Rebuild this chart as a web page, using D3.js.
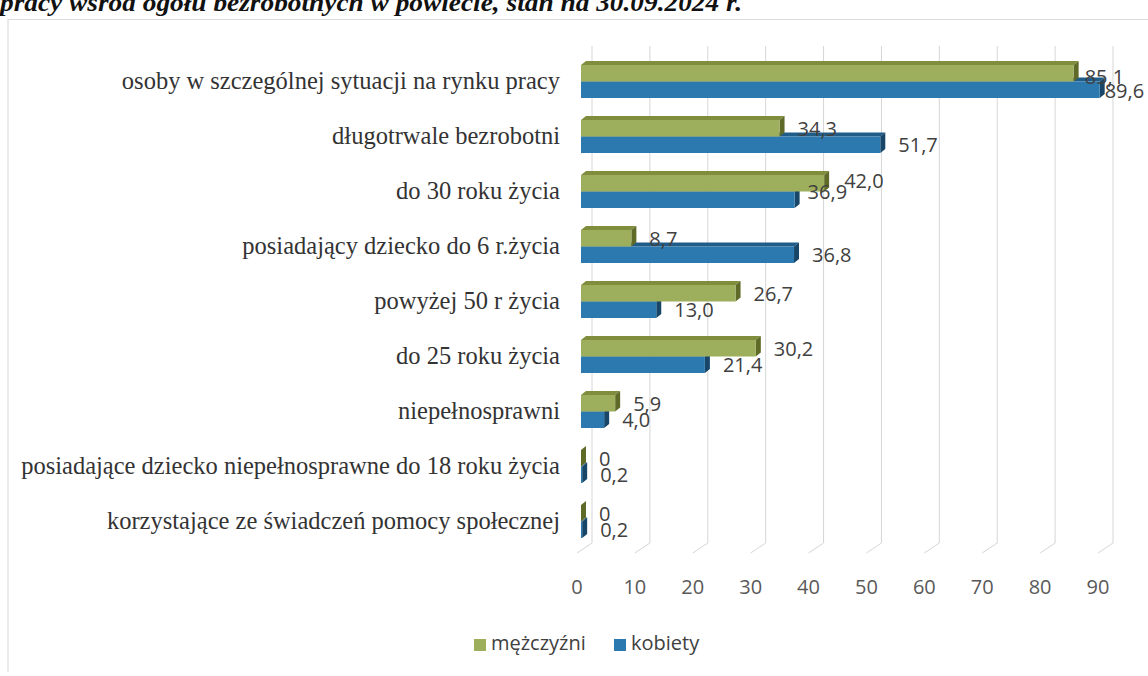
<!DOCTYPE html>
<html lang="pl">
<head>
<meta charset="UTF-8">
<title>Bezrobotni w szczególnej sytuacji na rynku pracy</title>
<script src="https://cdn.jsdelivr.net/npm/d3@7"></script>
<style>
  body { margin: 0; background: #fff; }
  .cat { font-family: "Liberation Serif", "Times New Roman", serif; font-size: 24.5px; fill: #333; }
  .num { font-family: "Open Sans", sans-serif; font-size: 20px; fill: #404040; }
  .tick { font-family: "Open Sans", sans-serif; font-size: 20px; fill: #595959; }
  .legend { font-family: "Open Sans", sans-serif; font-size: 20px; fill: #404040; }
  .title { font-family: "Liberation Serif", serif; font-weight: bold; font-style: italic; font-size: 26px; fill: #111; }
</style>
</head>
<body>
<div id="chart"></div>
<script>
// data
const categories = [
  "osoby w szczególnej sytuacji na rynku pracy",
  "długotrwale bezrobotni",
  "do 30 roku życia",
  "posiadający dziecko do 6 r.życia",
  "powyżej 50 r życia",
  "do 25 roku życia",
  "niepełnosprawni",
  "posiadające dziecko niepełnosprawne do 18 roku życia",
  "korzystające ze świadczeń pomocy społecznej"
];
const men   = [85.1, 34.3, 42.0, 8.7, 26.7, 30.2, 5.9, 0, 0];
const women = [89.6, 51.7, 36.9, 36.8, 13.0, 21.4, 4.0, 0.2, 0.2];
const seriesNames = ["mężczyźni", "kobiety"];
const tickValues = [0, 10, 20, 30, 40, 50, 60, 70, 80, 90];

const W = 1148, H = 676;
const svg = d3.select("#chart").append("svg").attr("width", W).attr("height", H);

// frame + clipped title line from the page
svg.append("path")
  .attr("d", `M8,${H - 4} L8,19.5 L${W},19.5`)
  .attr("fill", "none").attr("stroke", "#dcdcdc").attr("stroke-width", 1.2);
svg.append("text").attr("class", "title")
  .attr("x", 0).attr("y", 11)
  .attr("textLength", 742).attr("lengthAdjust", "spacingAndGlyphs")
  .text("pracy wśród ogółu bezrobotnych w powiecie, stan na 30.09.2024 r.");

const x = d3.scaleLinear().domain([0, 90]).range([581, 1102]);
const y = d3.scaleBand().domain(categories).range([53.5, 548.5]);
const inner = d3.scaleBand().domain(seriesNames).range([-16, 17]);

// 3d offsets: wall (back) and floor (front) relative to the bar plane
const back = {dx: 11, dy: -6}, front = {dx: -4, dy: 4};
const wallTop = 46, wallBottom = 543;

const grid = svg.append("g").attr("stroke", "#d6d6d6").attr("fill", "none").attr("stroke-width", 1);
tickValues.forEach(v => {
  const bx = x(v) + back.dx, fx = x(v) + front.dx;
  grid.append("path").attr("d", `M${bx},${wallTop} L${bx},${wallBottom} L${fx},${wallBottom + 10}`);
});

svg.append("g").selectAll("text").data(tickValues).join("text")
  .attr("class", "tick")
  .attr("x", d => x(d) + front.dx)
  .attr("y", 589)
  .attr("text-anchor", "middle")
  .attr("dominant-baseline", "middle")
  .text(d => d);

// category labels
svg.append("g").selectAll("text").data(categories).join("text")
  .attr("class", "cat")
  .attr("x", 560)
  .attr("y", d => y(d) + y.bandwidth() / 2 + 2)
  .attr("text-anchor", "end")
  .attr("dominant-baseline", "middle")
  .text(d => d);

const colors = {
  "mężczyźni": {front: "#9dae5c", top: "#7f8d3d", side: "#5f6a28"},
  "kobiety":   {front: "#2b79ae", top: "#1f5c87", side: "#174668"}
};
const depth = {dx: 5, dy: -4};

function bar(g, v, cat, s) {
  const c = colors[s];
  const x0 = x(0), xe = x(v);
  const y0 = y(cat) + y.bandwidth() / 2 + inner(s);
  const y1 = y0 + inner.bandwidth();
  const {dx, dy} = depth;
  g.append("polygon").attr("fill", c.top)
    .attr("points", [[x0, y0], [x0 + dx, y0 + dy], [xe + dx, y0 + dy], [xe, y0]].join(" "));
  g.append("polygon").attr("fill", c.side)
    .attr("points", [[xe, y0], [xe + dx, y0 + dy], [xe + dx, y1 + dy], [xe, y1]].join(" "));
  g.append("rect").attr("fill", c.front)
    .attr("x", x0).attr("y", y0).attr("width", xe - x0).attr("height", y1 - y0);
}

const bars = svg.append("g");
// lower bar (kobiety) first so that the upper one covers its top face
categories.forEach((cat, i) => {
  bar(bars, women[i], cat, "kobiety");
  bar(bars, men[i], cat, "mężczyźni");
});

// data labels, excel style; a few were moved by hand in the original
const fmt = v => v === 0 ? "0" : d3.format(".1f")(v).replace(".", ",");
const nudge = {
  "0-m": [-7, 3], "0-k": [-13, 1],
  "2-m": [2, -3], "2-k": [-5, -8]
};
const labels = svg.append("g");
categories.forEach((cat, i) => {
  const c = y(cat) + y.bandwidth() / 2;
  [["m", men[i], -5], ["k", women[i], 11]].forEach(([k, v, off]) => {
    const n = nudge[i + "-" + k] || [0, 0];
    labels.append("text").attr("class", "num")
      .attr("x", x(v) + 18 + n[0])
      .attr("y", c + off + n[1])
      .attr("dominant-baseline", "middle")
      .text(fmt(v));
  });
});

// legend
const leg = svg.append("g");
const legX = [474, 614];
seriesNames.forEach((s, i) => {
  leg.append("rect").attr("x", legX[i]).attr("y", 639).attr("width", 12).attr("height", 12)
    .attr("fill", colors[s].front);
  leg.append("text").attr("class", "legend")
    .attr("x", legX[i] + 17).attr("y", 645)
    .attr("dominant-baseline", "middle")
    .text(s);
});
</script>
</body>
</html>
